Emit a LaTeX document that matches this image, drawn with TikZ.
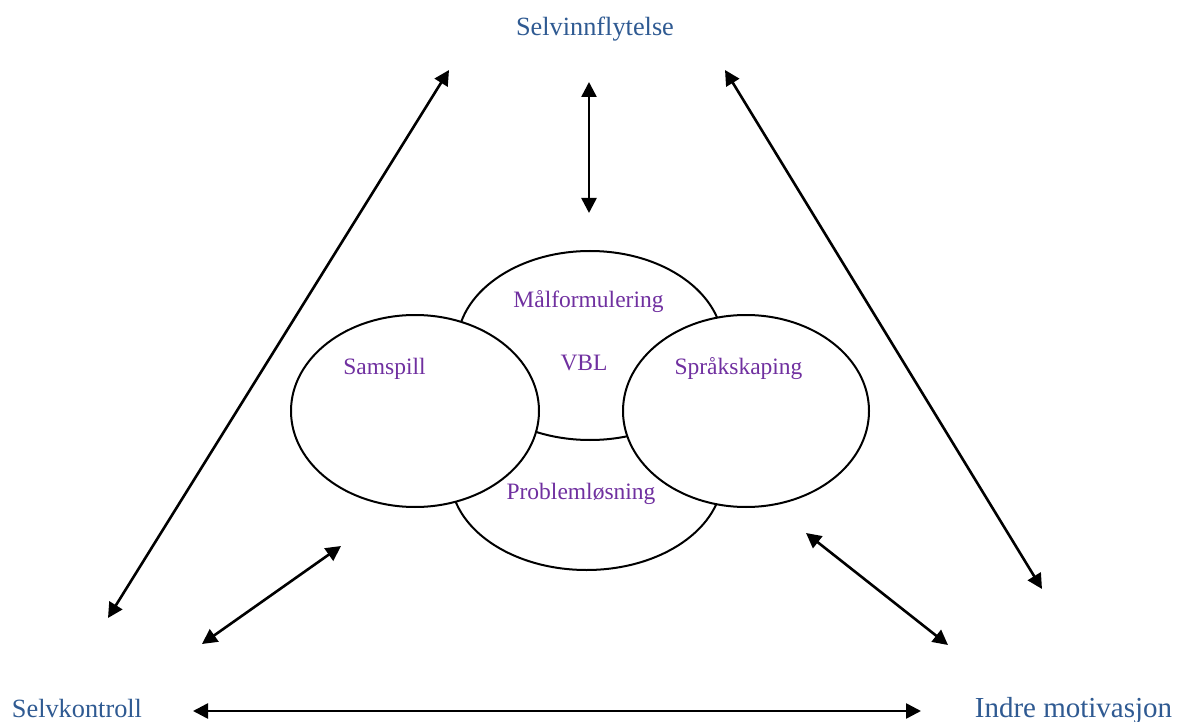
\documentclass[tikz,border=0pt]{standalone}
\usepackage{fontspec}
\setmainfont{Liberation Serif}
\usetikzlibrary{arrows.meta,shapes.geometric}
\definecolor{capblue}{HTML}{2F5A92}
\definecolor{lblpurple}{HTML}{7030A0}
\tikzset{
  circ/.style={ellipse, draw=black, line width=2pt, fill=white, inner sep=0pt},
  biarrow/.style={line width=2.6pt, {Triangle[length=15pt,width=15pt]}-{Triangle[length=15pt,width=15pt]}},
  corner/.style={anchor=base, text=capblue, font=\fontsize{26.3}{30}\selectfont, inner sep=0pt},
  inner/.style={anchor=base, text=lblpurple, font=\fontsize{23.5}{28}\selectfont, inner sep=0pt}
}
\begin{document}
\begin{tikzpicture}[x=1pt,y=-1pt]
\useasboundingbox[fill=white] (0,0) rectangle (1184,722);
% ellipses
\node[circ, minimum width=272pt, minimum height=188pt] (bot) at (586.5,476) {};
\node[circ, minimum width=266pt, minimum height=189pt] (top) at (590,345.5) {};
\node[circ, minimum width=248pt, minimum height=192pt] (left) at (415,411) {};
\node[circ, minimum width=246pt, minimum height=192pt] (right) at (746,411) {};
% inner labels
\node[inner] (mal) at (588.5,307) {Målformulering};
\node[inner] (vbl) at (584,370) {VBL};
\node[inner] (sam) at (384.5,374) {Samspill};
\node[inner] (spr) at (738.5,374) {Språkskaping};
\node[inner] (pro) at (581,499) {Problemløsning};
% corner labels
\node[corner] (si) at (595,36) {Selvinnflytelse};
\node[corner] (sk) at (77,717) {Selvkontroll};
\node[corner, font=\fontsize{29}{33}\selectfont] (im) at (1073.5,717) {Indre motivasjon};
% arrow ends
\coordinate (v1) at (589,82);
\coordinate (v2) at (589,213);
\coordinate (l1) at (449,70);
\coordinate (l2) at (108,618);
\coordinate (r1) at (725,70);
\coordinate (r2) at (1042,589);
\coordinate (sl1) at (341,546);
\coordinate (sl2) at (202,644);
\coordinate (sr1) at (806,533);
\coordinate (sr2) at (948,645);
\coordinate (b1) at (193,711);
\coordinate (b2) at (921,711);
\draw[biarrow] (v1) -- (v2);
\draw[biarrow] (l1) -- (l2);
\draw[biarrow] (r1) -- (r2);
\draw[biarrow] (sl1) -- (sl2);
\draw[biarrow] (sr1) -- (sr2);
\draw[biarrow] (b1) -- (b2);
\end{tikzpicture}
\end{document}
